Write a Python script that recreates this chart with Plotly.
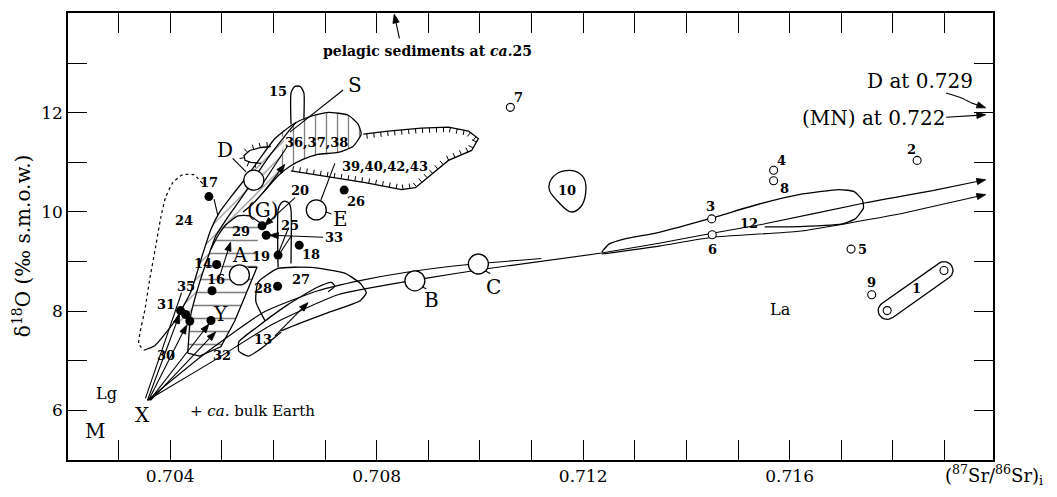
import numpy as np
import plotly.graph_objects as go

# ---------------- axis frame ----------------
X_RANGE = [0.70202, 0.71994]
Y_RANGE = [4.996, 14.013]
X_LABEL_TICKS = [0.704, 0.708, 0.712, 0.716]
X_LABELS = ["0.704", "0.708", "0.712", "0.716"]
X_MINOR = [0.703, 0.705, 0.706, 0.707, 0.709, 0.710, 0.711, 0.713, 0.714, 0.715, 0.717, 0.718, 0.719]
Y_LABEL_TICKS = [6, 8, 10, 12]
Y_LABELS = ["6", "8", "10", "12"]
Y_MINOR = [7, 9, 11, 13]

# ---------------- point data ----------------
dot_x = [0.70475, 0.70737, 0.70578, 0.70586, 0.70609, 0.70650, 0.70490, 0.70481,
         0.70608, 0.70420, 0.70430, 0.70438, 0.70479]
dot_y = [10.31, 10.44, 9.72, 9.53, 9.13, 9.33, 8.94, 8.41, 8.50, 8.01, 7.93, 7.80, 7.81]

open_x = [0.71059, 0.71569, 0.71569, 0.71847, 0.71449, 0.71450, 0.71719, 0.71759, 0.71789, 0.71899]
open_y = [12.11, 10.84, 10.63, 11.04, 9.86, 9.54, 9.25, 8.33, 8.01, 8.82]

big_x = [0.70562, 0.70683, 0.70534, 0.70874, 0.70997]   # D, E, A, B, C
big_y = [10.64, 10.04, 8.73, 8.61, 8.95]

# ---------------- outlines ----------------
x24d = [0.70463, 0.70446, 0.70424, 0.70405, 0.70391, 0.70382, 0.70372, 0.70360, 0.70351, 0.70341, 0.70339, 0.70349]
y24d = [10.57, 10.75, 10.75, 10.59, 10.29, 9.90, 9.31, 8.62, 8.03, 7.54, 7.34, 7.21]

xOE = [0.70349, 0.70370, 0.70409, 0.70440, 0.70463, 0.70479, 0.70496, 0.70521, 0.70547, 0.70574, 0.70603,
       0.70638, 0.70667, 0.70706, 0.70745, 0.70764, 0.70770, 0.70754, 0.70725, 0.70686, 0.70657, 0.70632,
       0.70609, 0.70585, 0.70560, 0.70541]
yOE = [7.21, 7.30, 7.80, 8.39, 9.15, 9.65, 10.00, 10.35, 10.69, 11.08, 11.48, 11.77, 11.91, 12.01, 11.95,
       11.77, 11.57, 11.32, 11.20, 11.16, 11.06, 10.92, 10.73, 10.45, 10.16, 10.00]

xL1 = [0.70434, 0.70440, 0.70457, 0.70473, 0.70488, 0.70512, 0.70541, 0.70566, 0.70593, 0.70622, 0.70644]
yL1 = [7.15, 7.93, 8.58, 9.08, 9.51, 9.90, 10.33, 10.73, 11.14, 11.53, 11.81]

xDome = [0.70479, 0.70492, 0.70508, 0.70531, 0.70554, 0.70574]
yDome = [9.25, 9.51, 9.74, 9.92, 9.92, 9.78]

xYR = [0.70551, 0.70568, 0.70525, 0.70498, 0.70457, 0.70434]
yYR = [8.88, 8.88, 7.80, 7.28, 7.09, 7.15]

xBand = [0.70409, 0.70440, 0.70463, 0.70479, 0.70496, 0.70521, 0.70547, 0.70574, 0.70603, 0.70622, 0.70609,
         0.70585, 0.70560, 0.70541, 0.70531, 0.70508, 0.70492, 0.70479, 0.70473, 0.70457, 0.70440, 0.70434]
yBand = [7.80, 8.39, 9.15, 9.65, 10.00, 10.35, 10.69, 11.08, 11.48, 11.53, 10.73, 10.45, 10.16, 10.00, 9.92,
         9.74, 9.51, 9.25, 9.08, 8.58, 7.93, 7.44]

xSb = [0.70603, 0.70638, 0.70667, 0.70706, 0.70745, 0.70764, 0.70770, 0.70754, 0.70725, 0.70686, 0.70657,
       0.70632, 0.70609, 0.70622]
ySb = [11.48, 11.77, 11.91, 12.01, 11.95, 11.77, 11.57, 11.32, 11.20, 11.16, 11.06, 10.92, 10.73, 11.53]

xYf = [0.70434, 0.70440, 0.70457, 0.70473, 0.70479, 0.70492, 0.70508, 0.70531, 0.70554, 0.70574, 0.70568,
       0.70568, 0.70525, 0.70498, 0.70457]
yYf = [7.15, 7.93, 8.58, 9.08, 9.25, 9.51, 9.74, 9.92, 9.92, 9.78, 9.31, 8.88, 7.80, 7.28, 7.09]

x39 = [0.70774, 0.70822, 0.70886, 0.70939, 0.70978, 0.70997, 0.70984, 0.70939, 0.70875, 0.70848, 0.70778,
       0.70681, 0.70634]
y39 = [11.57, 11.63, 11.69, 11.71, 11.63, 11.48, 11.24, 11.04, 10.49, 10.45, 10.59, 10.75, 10.83]
xLobe = [0.70595, 0.70576, 0.70554, 0.70543, 0.70545, 0.70556, 0.70576]
yLobe = [11.32, 11.30, 11.24, 11.14, 11.04, 11.00, 10.98]

x10 = [0.71135, 0.71152, 0.71182, 0.71201, 0.71205, 0.71195, 0.71176, 0.71152, 0.71135, 0.71135]
y10 = [10.59, 10.79, 10.83, 10.69, 10.39, 10.10, 10.00, 10.20, 10.43, 10.59]

x15 = [0.70634, 0.70634, 0.70640, 0.70647, 0.70653, 0.70659, 0.70659]
y15 = [11.77, 12.40, 12.52, 12.54, 12.52, 12.40, 11.87]

x20 = [0.70609, 0.70609, 0.70615, 0.70622, 0.70630, 0.70634, 0.70634]
y20 = [8.88, 10.04, 10.18, 10.22, 10.18, 10.04, 8.96]

x27 = [0.70584, 0.70566, 0.70570, 0.70609, 0.70673, 0.70739, 0.70768, 0.70780, 0.70768, 0.70706, 0.70648, 0.70615]
y27 = [7.80, 8.19, 8.58, 8.86, 8.88, 8.76, 8.56, 8.37, 8.21, 7.97, 7.74, 7.60]

x13 = [0.70615, 0.70574, 0.70551, 0.70533, 0.70533, 0.70566, 0.70628, 0.70683, 0.70712, 0.70719, 0.70706]
y13 = [7.58, 7.23, 7.09, 7.19, 7.38, 7.66, 8.13, 8.47, 8.58, 8.50, 8.39]

x12 = [0.71236, 0.71250, 0.71279, 0.71347, 0.71450, 0.71541, 0.71618, 0.71696, 0.71725, 0.71741, 0.71743,
       0.71727, 0.71702, 0.71599, 0.71552]
y12 = [9.19, 9.35, 9.45, 9.59, 9.88, 10.16, 10.35, 10.45, 10.41, 10.24, 10.08, 9.86, 9.76, 9.70, 9.70]

# field 1: capsule joining the two samples of 1
cap1_x = [0.71789, 0.71899]
cap1_y = [8.01, 8.82]

xXL1 = [0.70356, 0.70463, 0.70580, 0.70686, 0.70770, 0.70855, 0.70978, 0.71119]
yXL1 = [6.20, 7.11, 7.97, 8.41, 8.62, 8.78, 8.94, 9.06]
xXL2 = [0.70356, 0.70483, 0.70599, 0.70725, 0.70894, 0.71017, 0.71236]
yXL2 = [6.20, 6.99, 7.74, 8.33, 8.66, 8.86, 9.17]
xA1 = [0.71236, 0.71347, 0.71450, 0.71552, 0.71745, 0.71877]
yA1 = [9.17, 9.37, 9.57, 9.76, 10.18, 10.43]
xA2 = [0.71236, 0.71347, 0.71450, 0.71618, 0.71813]
yA2 = [9.15, 9.31, 9.49, 9.61, 9.96]
xDc = [0.71903, 0.71933, 0.71952]
yDc = [12.40, 12.30, 12.20]

# straight leader lines: x0, y0, x1, y1
leaders = [
    (0.70521, 11.08, 0.70547, 10.81),   # D
    (0.70632, 11.61, 0.70735, 12.46),   # S
    (0.70692, 10.04, 0.70712, 9.96),    # E
    (0.70873, 8.56, 0.70896, 8.45),     # B
    (0.70997, 8.88, 0.71020, 8.76),     # C
    (0.70719, 10.98, 0.70692, 10.24),   # 39-43
    (0.70628, 11.34, 0.70574, 10.49),   # 36,37,38
    (0.70628, 9.65, 0.70609, 9.15),     # 25
    (0.70485, 10.26, 0.70492, 9.94),    # 17
    (0.70609, 9.11, 0.70634, 9.51),     # 19-20
    (0.70352, 6.24, 0.70422, 8.37),     # X-35
]
# arrows: x0, y0, x1, y1
arrows = [
    (0.71877, 10.43, 0.71980, 10.65),
    (0.71813, 9.96, 0.71980, 10.35),
    (0.71952, 12.20, 0.71980, 12.10),
    (0.71903, 11.91, 0.71980, 11.96),
    (0.70844, 13.50, 0.70834, 13.99),
    (0.70603, 7.50, 0.70667, 8.17),
    (0.70356, 6.20, 0.70418, 7.93),
    (0.70358, 6.20, 0.70432, 7.72),
    (0.70360, 6.20, 0.70475, 7.74),
    (0.70362, 6.20, 0.70488, 7.58),
    (0.70492, 8.58, 0.70517, 9.39),
    (0.70580, 10.39, 0.70622, 10.96),
    (0.70642, 10.29, 0.70582, 9.72),
    (0.70696, 9.49, 0.70592, 9.53),
]

# ---------------- labels ----------------
num_text = ["15", "36,37,38", "39,40,42,43", "20", "25", "29", "33", "19", "18", "14", "16", "35", "28",
            "27", "31", "13", "30", "32", "24", "17", "26", "7", "4", "8", "2", "3", "6", "12", "5", "9",
            "1", "10"]
num_x = [0.70609, 0.70683, 0.70817, 0.70652, 0.70632, 0.70537, 0.70718, 0.70576, 0.70673, 0.70463, 0.70488,
         0.70430, 0.70580, 0.70653, 0.70391, 0.70580, 0.70391, 0.70500, 0.70426, 0.70475, 0.70760, 0.71075,
         0.71585, 0.71591, 0.71837, 0.71447, 0.71451, 0.71521, 0.71741, 0.71758, 0.71845, 0.71168]
num_y = [12.42, 11.40, 10.92, 10.43, 9.72, 9.61, 9.49, 9.11, 9.15, 8.96, 8.64, 8.50, 8.46, 8.64, 8.13, 7.42,
         7.11, 7.11, 9.82, 10.59, 10.22, 12.30, 11.04, 10.48, 11.26, 10.10, 9.25, 9.76, 9.25, 8.57, 8.46,
         10.43]

let_text = ["D", "E", "A", "B", "C", "(G)", "Y", "S", "X", "M"]
let_x = [0.70506, 0.70729, 0.70535, 0.70906, 0.71026, 0.70580, 0.70498, 0.70758, 0.70347, 0.70255]
let_y = [11.24, 9.86, 9.13, 8.23, 8.48, 10.04, 7.95, 12.56, 5.91, 5.59]

small_text = ["Lg", "La"]
small_x = [0.70277, 0.71582]
small_y = [6.34, 8.03]

FONT = "DejaVu Serif"
W, H = 1057, 497
MARGIN = dict(l=68, r=64, t=11, b=28)
PW = W - MARGIN["l"] - MARGIN["r"]
PH = H - MARGIN["t"] - MARGIN["b"]
SX = PW / (X_RANGE[1] - X_RANGE[0])
SY = PH / (Y_RANGE[1] - Y_RANGE[0])


def to_px(xs, ys):
    return (np.asarray(xs, float) - X_RANGE[0]) * SX, -(np.asarray(ys, float) - Y_RANGE[0]) * SY


def from_px(px, py):
    return list(np.asarray(px) / SX + X_RANGE[0]), list(-np.asarray(py) / SY + Y_RANGE[0])


fig = go.Figure()


def line(xs, ys, width=1.3, dash=None, shape="spline", smoothing=0.5):
    fig.add_trace(go.Scatter(x=xs, y=ys, mode="lines",
                             line=dict(color="black", width=width, dash=dash, shape=shape, smoothing=smoothing),
                             hoverinfo="skip", showlegend=False))


def hatch(xs, ys, pattern, size):
    fig.add_trace(go.Scatter(x=xs, y=ys, mode="none", fill="toself", fillcolor="rgba(0,0,0,0)",
                             fillpattern=dict(shape=pattern, fgcolor="black", bgcolor="rgba(0,0,0,0)",
                                              size=size, solidity=0.12),
                             hoverinfo="skip", showlegend=False))


def comb(xs, ys, step=7.0, length=5.0, sign=1):
    px, py = to_px(xs, ys)
    seg = np.hypot(np.diff(px), np.diff(py))
    cum = np.concatenate([[0], np.cumsum(seg)])
    tx, ty = [], []
    for s in np.arange(step / 2, cum[-1], step):
        i = int(np.clip(np.searchsorted(cum, s) - 1, 0, len(seg) - 1))
        t = (s - cum[i]) / seg[i]
        x0 = px[i] + t * (px[i + 1] - px[i])
        y0 = py[i] + t * (py[i + 1] - py[i])
        dx = (px[i + 1] - px[i]) / seg[i]
        dy = (py[i + 1] - py[i]) / seg[i]
        x1 = x0 - dy * sign * length
        y1 = y0 + dx * sign * length
        ax_, ay_ = from_px([x0, x1], [y0, y1])
        tx += ax_ + [None]
        ty += ay_ + [None]
    fig.add_trace(go.Scatter(x=tx, y=ty, mode="lines", line=dict(color="black", width=1),
                             hoverinfo="skip", showlegend=False))


def capsule(xs, ys, radius=9.0):
    px, py = to_px(xs, ys)
    ang = np.arctan2(py[1] - py[0], px[1] - px[0])
    a1 = np.linspace(ang + np.pi / 2, ang + 3 * np.pi / 2, 16)
    a2 = np.linspace(ang - np.pi / 2, ang + np.pi / 2, 16)
    cx = np.concatenate([px[0] + radius * np.cos(a1), px[1] + radius * np.cos(a2), [px[0] + radius * np.cos(a1[0])]])
    cy = np.concatenate([py[0] + radius * np.sin(a1), py[1] + radius * np.sin(a2), [py[0] + radius * np.sin(a1[0])]])
    gx, gy = from_px(cx, cy)
    line(gx, gy, shape="linear")


def arrow(x0, y0, x1, y1):
    # shaft, then a filled head whose tip sits on the end point
    px, py = to_px([x0, x1], [y0, y1])
    L = np.hypot(px[1] - px[0], py[1] - py[0])
    ux, uy = (px[1] - px[0]) / L, (py[1] - py[0]) / L
    hl, hw = 9.0, 3.2
    bx, by = px[1] - ux * hl, py[1] - uy * hl
    hx = [px[1], bx - uy * hw, bx + uy * hw, px[1]]
    hy = [py[1], by + ux * hw, by - ux * hw, py[1]]
    sx_, sy_ = from_px([px[0], bx], [py[0], by])
    line(sx_, sy_, width=1.1, shape="linear")
    gx, gy = from_px(hx, hy)
    fig.add_trace(go.Scatter(x=gx, y=gy, mode="lines", fill="toself", fillcolor="black",
                             line=dict(color="black", width=0.8), hoverinfo="skip", showlegend=False))


# hatched fields
hatch(xBand, yBand, "/", 9)
hatch(xSb, ySb, "|", 11)
hatch(xYf, yYf, "-", 13)

# outlines
line(x24d, y24d, width=1.2, dash="dot")
line(xOE, yOE)
line(xL1, yL1)
line(xDome, yDome)
line(xYR, yYR, shape="linear")
line(x39, y39, shape="linear")
comb(x39, y39)
line(xLobe, yLobe, shape="linear")
comb(xLobe, yLobe)
line(x10, y10, smoothing=1.0)
line(x15, y15)
line(x20, y20)
line(x27, y27)
line(x13, y13)
line(x12, y12)
capsule(cap1_x, cap1_y)
line(xXL1, yXL1, width=1.1)
line(xXL2, yXL2, width=1.1)
line(xA1, yA1, width=1.1)
line(xA2, yA2, width=1.1)
line(xDc, yDc, width=1.1)
for x0, y0, x1, y1 in leaders:
    line([x0, x1], [y0, y1], width=1.1, shape="linear")
for x0, y0, x1, y1 in arrows:
    arrow(x0, y0, x1, y1)

# markers
fig.add_trace(go.Scatter(x=big_x, y=big_y, mode="markers",
                         marker=dict(size=20, color="white", line=dict(color="black", width=1.3)),
                         hoverinfo="skip", showlegend=False))
fig.add_trace(go.Scatter(x=open_x, y=open_y, mode="markers",
                         marker=dict(size=8, color="white", line=dict(color="black", width=1.1)),
                         hoverinfo="skip", showlegend=False))
fig.add_trace(go.Scatter(x=dot_x, y=dot_y, mode="markers",
                         marker=dict(size=9, color="black"),
                         hoverinfo="skip", showlegend=False))

for t, x, y in zip(num_text, num_x, num_y):
    fig.add_annotation(x=x, y=y, text="<b>" + t + "</b>", showarrow=False,
                       font=dict(family=FONT, size=13, color="black"))
for t, x, y in zip(let_text, let_x, let_y):
    fig.add_annotation(x=x, y=y, text=t, showarrow=False, font=dict(family=FONT, size=20, color="black"))
for t, x, y in zip(small_text, small_x, small_y):
    fig.add_annotation(x=x, y=y, text=t, showarrow=False, font=dict(family=FONT, size=16, color="black"))

fig.add_annotation(x=0.70434, y=5.99, xanchor="left", text="+ <i>ca.</i> bulk Earth", showarrow=False,
                   font=dict(family=FONT, size=15, color="black"))
fig.add_annotation(x=0.70898, y=13.25, text="<b>pelagic sediments at <i>ca.</i>25</b>", showarrow=False,
                   font=dict(family=FONT, size=14, color="black"))
fig.add_annotation(x=0.71960, y=12.64, xanchor="right", text="D at 0.729", showarrow=False,
                   font=dict(family=FONT, size=20, color="black"))
fig.add_annotation(x=0.71906, y=11.89, xanchor="right", text="(MN) at 0.722", showarrow=False,
                   font=dict(family=FONT, size=20, color="black"))
fig.add_annotation(xref="paper", x=-0.0497, xanchor="center", y=9.31, text="δ<sup>18</sup>O (‰ s.m.o.w.)",
                   textangle=-90, showarrow=False, font=dict(family=FONT, size=20, color="black"))
fig.add_annotation(xref="paper", yref="paper", x=0.946, y=-0.033, xanchor="left", yanchor="middle",
                   text="(<sup>87</sup>Sr/<sup>86</sup>Sr)<sub>i</sub>", showarrow=False,
                   font=dict(family=FONT, size=18, color="black"))

axis_common = dict(showgrid=False, zeroline=False, showline=True, linecolor="black", linewidth=1.5,
                   mirror="ticks", ticks="inside", tickcolor="black", tickwidth=1.3,
                   tickfont=dict(family=FONT, size=17, color="black"))
fig.update_xaxes(range=X_RANGE, tickmode="array", tickvals=X_LABEL_TICKS, ticktext=X_LABELS, ticklen=20,
                 minor=dict(tickmode="array", tickvals=X_MINOR, ticks="inside", ticklen=20, tickwidth=1.3,
                            tickcolor="black", showgrid=False),
                 **axis_common)
fig.update_yaxes(range=Y_RANGE, tickmode="array", tickvals=Y_LABEL_TICKS, ticktext=Y_LABELS, ticklen=19,
                 minor=dict(tickmode="array", tickvals=Y_MINOR, ticks="inside", ticklen=19, tickwidth=1.3,
                            tickcolor="black", showgrid=False),
                 **axis_common)
fig.update_layout(width=W, height=H, margin=MARGIN, plot_bgcolor="white", paper_bgcolor="white",
                  showlegend=False)
fig.write_html("out.html")
